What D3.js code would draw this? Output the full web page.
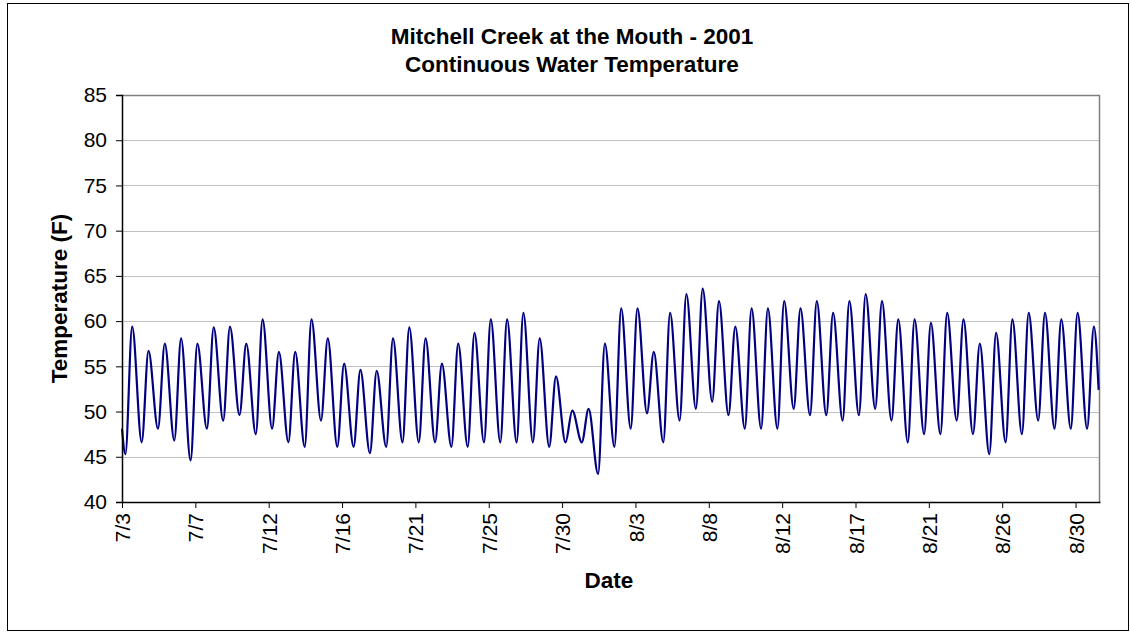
<!DOCTYPE html>
<html>
<head>
<meta charset="utf-8">
<script src="https://cdn.jsdelivr.net/npm/d3@7"></script>
<style>
  body { margin: 0; background: #fff; }
  svg text { font-family: "Liberation Sans", Arial, sans-serif; fill: #000; }
</style>
</head>
<body>
<div id="chart"></div>
<script>
    // Data: one low and one high per day, 7/3 .. 8/31
    var dailyMin = [45.3, 46.6, 48.1, 46.8, 44.6, 48.1, 49.0, 49.6, 47.5, 48.1,
                    46.6, 46.1, 49.0, 46.1, 46.1, 45.4, 46.1, 46.6, 46.6, 46.6,
                    46.1, 46.1, 46.6, 46.6, 46.6, 46.6, 46.1, 46.6, 46.6, 43.1,
                    46.1, 48.1, 49.8, 46.6, 49.0, 50.3, 51.1, 49.6, 48.1, 48.1,
                    48.1, 50.3, 49.6, 49.6, 49.0, 49.6, 50.3, 49.0, 46.6, 47.5,
                    47.5, 49.0, 47.5, 45.3, 46.6, 47.5, 49.0, 48.1, 48.1, 48.1];
    var dailyMax = [59.4, 56.7, 57.5, 58.1, 57.5, 59.3, 59.4, 57.5, 60.2, 56.6,
                    56.6, 60.2, 58.1, 55.3, 54.6, 54.5, 58.1, 59.3, 58.1, 55.3,
                    57.5, 58.7, 60.2, 60.2, 60.9, 58.1, 53.9, 50.1, 50.3, 57.5,
                    61.4, 61.4, 56.6, 60.9, 63.0, 63.6, 62.2, 59.4, 61.4, 61.4,
                    62.2, 61.4, 62.2, 60.9, 62.2, 63.0, 62.2, 60.2, 60.2, 59.8,
                    60.9, 60.2, 57.5, 58.7, 60.2, 60.9, 60.9, 60.2, 60.9, 59.4];
    var firstReading = 48.1;   // 7/3 00:00
    var lastReading = 52.4;    // 8/31 22:00
    var minHour = 5;
    var maxHour = 15;

    var tickDates = ["2001-07-03T00:00", "2001-07-07T12:00", "2001-07-12T00:00",
                     "2001-07-16T12:00", "2001-07-21T00:00", "2001-07-25T12:00",
                     "2001-07-30T00:00", "2001-08-03T12:00", "2001-08-08T00:00",
                     "2001-08-12T12:00", "2001-08-17T00:00", "2001-08-21T12:00",
                     "2001-08-26T00:00", "2001-08-30T12:00"];
    var tickLabels = ["7/3", "7/7", "7/12", "7/16", "7/21", "7/25", "7/30",
                      "8/3", "8/8", "8/12", "8/17", "8/21", "8/26", "8/30"];
    var yTicks = [40, 45, 50, 55, 60, 65, 70, 75, 80, 85];

    // Build the series: start, then low/high of each day, then the last reading
    var startDate = new Date(2001, 6, 3);
    var endDate = new Date(2001, 8, 1);
    var series = [{ date: startDate, value: firstReading }];
    dailyMin.forEach(function (v, i) {
      series.push({ date: d3.timeHour.offset(d3.timeDay.offset(startDate, i), minHour), value: v });
      series.push({ date: d3.timeHour.offset(d3.timeDay.offset(startDate, i), maxHour), value: dailyMax[i] });
    });
    series.push({ date: d3.timeHour.offset(d3.timeDay.offset(startDate, 59), 22), value: lastReading });

    var W = 1130, H = 632;
    var margin = { top: 95, right: 30, bottom: 130, left: 122 };
    var width = 1100 - margin.left;
    var height = 502 - margin.top;

    var svg = d3.select("#chart")
      .append("svg")
      .attr("width", W)
      .attr("height", H);

    // Outer frame
    svg.append("rect")
      .attr("x", 7.5).attr("y", 3.5)
      .attr("width", 1121).attr("height", 627)
      .attr("fill", "none")
      .attr("stroke", "#000")
      .attr("stroke-width", 1);

    var g = svg.append("g")
      .attr("transform", "translate(" + margin.left + "," + margin.top + ")");

    var xScale = d3.scaleTime()
      .domain([startDate, endDate])
      .range([0, width]);

    var yScale = d3.scaleLinear()
      .domain([40, 85])
      .range([height, 0]);

    // Gridlines
    g.selectAll(".grid")
      .data(yTicks.slice(1, -1))
      .enter()
      .append("line")
      .attr("class", "grid")
      .attr("x1", 0).attr("x2", width)
      .attr("y1", function (d) { return Math.round(yScale(d)) + 0.5; })
      .attr("y2", function (d) { return Math.round(yScale(d)) + 0.5; })
      .attr("stroke", "#c0c0c0")
      .attr("stroke-width", 1);

    // Top and right border of plot area
    g.append("path")
      .attr("d", "M0," + 0.5 + "H" + (width - 0.5) + "V" + height)
      .attr("fill", "none")
      .attr("stroke", "#808080")
      .attr("stroke-width", 1.5);

    // Temperature line
    var line = d3.line()
      .x(function (d) { return xScale(d.date); })
      .y(function (d) { return yScale(d.value); })
      .curve(d3.curveMonotoneX);

    g.append("path")
      .datum(series)
      .attr("fill", "none")
      .attr("stroke", "#000080")
      .attr("stroke-width", 2.2)
      .attr("stroke-linejoin", "round")
      .attr("d", line);

    // Y axis
    var yAxis = d3.axisLeft(yScale)
      .tickValues(yTicks)
      .tickSize(6)
      .tickPadding(9);
    var yG = g.append("g")
      .attr("class", "y-axis")
      .call(yAxis);
    yG.selectAll("text").style("font-size", "21px");

    // X axis
    var parseTick = d3.timeParse("%Y-%m-%dT%H:%M");
    var tickDateObjs = tickDates.map(parseTick);
    var xAxis = d3.axisBottom(xScale)
      .tickValues(tickDateObjs)
      .tickFormat(function (d, i) { return tickLabels[i]; })
      .tickSize(6)
      .tickSizeOuter(0);
    var xG = g.append("g")
      .attr("class", "x-axis")
      .attr("transform", "translate(0," + height + ")")
      .call(xAxis);
    xG.selectAll("text")
      .style("font-size", "21px")
      .style("text-anchor", "end")
      .attr("transform", "rotate(-90)")
      .attr("x", -11)
      .attr("y", 0)
      .attr("dy", "0.36em");

    [yG, xG].forEach(function (ax) {
      ax.select(".domain").attr("stroke", "#000").attr("stroke-width", 1.5);
      ax.selectAll(".tick line").attr("stroke", "#000");
    });

    // Titles
    svg.append("text")
      .attr("x", 572).attr("y", 44)
      .attr("text-anchor", "middle")
      .style("font-size", "22.5px").style("font-weight", "bold")
      .text("Mitchell Creek at the Mouth - 2001");
    svg.append("text")
      .attr("x", 572).attr("y", 72)
      .attr("text-anchor", "middle")
      .style("font-size", "22.5px").style("font-weight", "bold")
      .text("Continuous Water Temperature");

    svg.append("text")
      .attr("transform", "translate(67," + (margin.top + height / 2) + ") rotate(-90)")
      .attr("text-anchor", "middle")
      .style("font-size", "22.5px").style("font-weight", "bold")
      .text("Temperature (F)");

    svg.append("text")
      .attr("x", 609).attr("y", 588)
      .attr("text-anchor", "middle")
      .style("font-size", "22.5px").style("font-weight", "bold")
      .text("Date");
</script>
</body>
</html>
